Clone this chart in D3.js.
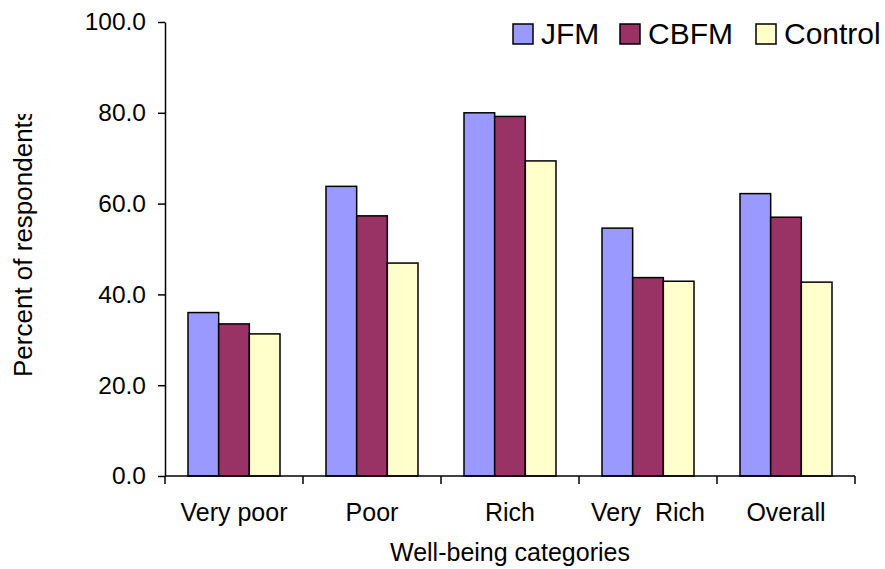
<!DOCTYPE html>
<html>
<head>
<meta charset="utf-8">
<script src="https://cdn.jsdelivr.net/npm/d3@7"></script>
<style>
  html, body { margin: 0; padding: 0; background: #fff; }
  svg { display: block; font-family: "Liberation Sans", Arial, sans-serif; }
</style>
</head>
<body>
<svg id="chart" width="885" height="569"></svg>
<script>
const categories = ["Very poor", "Poor", "Rich", "Very  Rich", "Overall"];
const seriesNames = ["JFM", "CBFM", "Control"];
const jfm     = [36.0, 63.8, 80.0, 54.6, 62.2];
const cbfm    = [33.5, 57.3, 79.2, 43.7, 57.0];
const control = [31.3, 46.9, 69.4, 42.9, 42.7];
const colors  = ["#9999FF", "#993366", "#FFFFCC"];
const yTicks  = [0, 20, 40, 60, 80, 100];

const svg = d3.select("#chart");
const mLeft = 165, mRight = 855, mTop = 22, mBottom = 476;

const x0 = d3.scaleBand().domain(categories).range([mLeft, mRight]).padding(0);
const x1 = d3.scaleBand().domain(seriesNames)
  .range([x0.bandwidth() / 6, x0.bandwidth() * 5 / 6]).padding(0);
const y = d3.scaleLinear().domain([0, 100]).range([mBottom, mTop]);

const seriesValues = [jfm, cbfm, control];

// bars
const groups = svg.append("g").selectAll("g")
  .data(categories)
  .join("g")
  .attr("transform", d => `translate(${x0(d)},0)`);

groups.selectAll("rect")
  .data((d, i) => seriesNames.map((s, k) => ({ s, k, v: seriesValues[k][i] })))
  .join("rect")
  .attr("x", d => x1(d.s))
  .attr("y", d => y(d.v))
  .attr("width", x1.bandwidth())
  .attr("height", d => y(0) - y(d.v))
  .attr("fill", d => colors[d.k])
  .attr("stroke", "#000")
  .attr("stroke-width", 1.5);

// y axis
const yAxis = svg.append("g")
  .attr("transform", `translate(${mLeft},0)`)
  .call(d3.axisLeft(y).tickValues(yTicks).tickFormat(d3.format(".1f")).tickSize(7).tickPadding(12).tickSizeOuter(0));
yAxis.select(".domain").attr("stroke", "#000").attr("stroke-width", 1.5);
yAxis.selectAll(".tick line").attr("stroke", "#000").attr("stroke-width", 1.5);
yAxis.selectAll(".tick text").attr("font-size", 24.5).attr("fill", "#000")
  .attr("font-family", "Liberation Sans, Arial, sans-serif");

// x axis (category boundaries as ticks)
const xg = svg.append("g");
xg.append("line")
  .attr("x1", mLeft).attr("x2", mRight)
  .attr("y1", y(0)).attr("y2", y(0))
  .attr("stroke", "#000").attr("stroke-width", 1.5);
const boundaries = categories.map(c => x0(c)).concat([x0(categories[categories.length - 1]) + x0.bandwidth()]);
xg.selectAll("line.tk").data(boundaries).join("line")
  .attr("class", "tk")
  .attr("x1", d => d).attr("x2", d => d)
  .attr("y1", y(0)).attr("y2", y(0) + 8)
  .attr("stroke", "#000").attr("stroke-width", 1.5);
xg.selectAll("text").data(categories).join("text")
  .attr("x", d => x0(d) + x0.bandwidth() / 2)
  .attr("y", 521)
  .attr("text-anchor", "middle")
  .attr("font-size", 25)
  .style("white-space", "pre")
  .text(d => d);

// axis titles
svg.append("text")
  .attr("x", (mLeft + mRight) / 2)
  .attr("y", 561)
  .attr("text-anchor", "middle")
  .attr("font-size", 25)
  .text("Well-being categories");

svg.append("clipPath").attr("id", "ytclip")
  .append("rect").attr("x", 0).attr("y", 114).attr("width", 60).attr("height", 400);
svg.append("g")
  .attr("clip-path", "url(#ytclip)")
  .append("text")
  .attr("transform", "translate(32,377) rotate(-90)")
  .attr("text-anchor", "start")
  .attr("font-size", 26)
  .text("Percent of respondents");

// legend
const legendX = [513, 620, 756];
const legend = svg.append("g").selectAll("g")
  .data(seriesNames)
  .join("g")
  .attr("transform", (d, i) => `translate(${legendX[i]},24)`);
legend.append("rect")
  .attr("width", 20).attr("height", 20)
  .attr("fill", (d, i) => colors[i])
  .attr("stroke", "#000").attr("stroke-width", 1.5);
legend.append("text")
  .attr("x", 28).attr("y", 19.5)
  .attr("font-size", 30)
  .text(d => d);
</script>
</body>
</html>
